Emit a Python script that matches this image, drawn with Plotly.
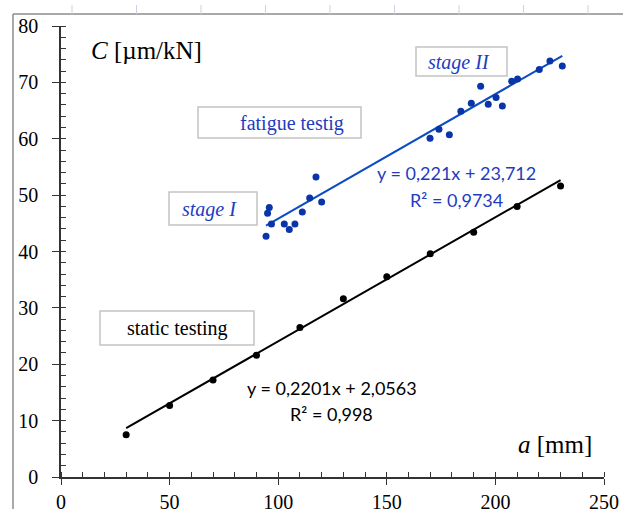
import plotly.graph_objects as go

# ---------------- data ----------------
static_x = [30, 50, 70, 90, 110, 130, 150, 170, 190, 210, 230]
static_y = [7.5, 12.7, 17.2, 21.6, 26.5, 31.6, 35.5, 39.6, 43.4, 48.0, 51.6]

fatigue_x = [94.4, 95.1, 95.9, 96.9, 102.8, 105.1, 107.7, 111.1, 114.5, 117.4, 120.0,
             169.9, 174.0, 178.8, 184.1, 188.9, 193.2, 196.7, 200.3, 203.2, 207.5,
             210.2, 220.2, 225.1, 230.8]
fatigue_y = [42.7, 46.8, 47.8, 44.9, 44.9, 43.9, 44.9, 47.0, 49.5, 53.2, 48.8,
             60.1, 61.7, 60.7, 64.9, 66.3, 69.3, 66.1, 67.3, 65.8, 70.2,
             70.6, 72.3, 73.8, 72.9]

static_fit = (0.2201, 2.0563)     # slope, intercept
fatigue_fit = (0.221, 23.712)

x_ticks = [0, 50, 100, 150, 200, 250]
y_ticks = [0, 10, 20, 30, 40, 50, 60, 70, 80]

# ---------------- geometry helpers ----------------
W, H = 623, 509
ML, MR, MT, MB = 61, 19, 26, 32
PW, PH = W - ML - MR, H - MT - MB


def fx(px):
    return (px - ML) / PW


def fy(py):
    return (H - MB - py) / PH


BLUE_PT = "#0a35a8"
BLUE_LN = "#0a4cc4"
BLUE_TX = "#1e3cc0"

fig = go.Figure()

# trend lines
sx0, sx1 = min(static_x), max(static_x)
fig.add_trace(go.Scatter(x=[sx0, sx1],
                         y=[static_fit[0] * sx0 + static_fit[1], static_fit[0] * sx1 + static_fit[1]],
                         mode="lines", line=dict(color="black", width=2), hoverinfo="skip"))
fx0, fx1 = min(fatigue_x), max(fatigue_x)
fig.add_trace(go.Scatter(x=[fx0, fx1],
                         y=[fatigue_fit[0] * fx0 + fatigue_fit[1], fatigue_fit[0] * fx1 + fatigue_fit[1]],
                         mode="lines", line=dict(color=BLUE_LN, width=2), hoverinfo="skip"))

# points
fig.add_trace(go.Scatter(x=static_x, y=static_y, mode="markers",
                         marker=dict(color="black", size=7)))
fig.add_trace(go.Scatter(x=fatigue_x, y=fatigue_y, mode="markers",
                         marker=dict(color=BLUE_PT, size=7)))

# dummy trace for overlay axes (inside part of crossing major ticks)
fig.add_trace(go.Scatter(x=[None], y=[None], xaxis="x2", yaxis="y2", showlegend=False))

tickfont = dict(family="Liberation Serif", size=20, color="black")
axcol = "#333333"

fig.update_layout(
    width=W, height=H,
    margin=dict(l=ML, r=MR, t=MT, b=MB, autoexpand=False),
    paper_bgcolor="white", plot_bgcolor="white",
    showlegend=False,
    xaxis=dict(range=[0, 250], tickvals=x_ticks, ticktext=[str(v) for v in x_ticks],
               showgrid=False, zeroline=False, showline=True, linecolor=axcol, linewidth=1.5,
               ticks="outside", ticklen=6, tickwidth=1.3, tickcolor=axcol, automargin=False,
               minor=dict(ticks="inside", ticklen=5, dtick=10, tickcolor=axcol, tickwidth=1.2, showgrid=False),
               tickfont=tickfont, ticklabelstandoff=0),
    yaxis=dict(range=[0, 80], tickvals=y_ticks, ticktext=[str(v) for v in y_ticks],
               showgrid=False, zeroline=False, showline=True, linecolor=axcol, linewidth=1.5,
               ticks="outside", ticklen=7, tickwidth=1.3, tickcolor=axcol, automargin=False,
               minor=dict(ticks="inside", ticklen=5, dtick=2, tickcolor=axcol, tickwidth=1.2, showgrid=False),
               tickfont=tickfont, ticklabelstandoff=10),
    xaxis2=dict(range=[0, 250], overlaying="x", anchor="y2", tickvals=x_ticks,
                showticklabels=False, showgrid=False, zeroline=False, showline=False,
                ticks="inside", ticklen=5, tickwidth=1.3, tickcolor=axcol, automargin=False),
    yaxis2=dict(range=[0, 80], overlaying="y", anchor="x2", tickvals=y_ticks,
                showticklabels=False, showgrid=False, zeroline=False, showline=False,
                ticks="inside", ticklen=5, tickwidth=1.3, tickcolor=axcol, automargin=False),
)

shapes = []
# outer chart frame (top & left visible)
shapes.append(dict(type="line", xref="paper", yref="paper", x0=fx(13), x1=fx(W + 5), y0=fy(14), y1=fy(14),
                   line=dict(color="#8c8c8c", width=1.5)))
shapes.append(dict(type="line", xref="paper", yref="paper", x0=fx(13), x1=fx(13), y0=fy(14), y1=fy(H + 5),
                   line=dict(color="#8c8c8c", width=1.5)))
# faint marks above the frame
for px in [72, 136.5, 201, 265.5, 330, 394.5, 459, 523.5, 588]:
    shapes.append(dict(type="line", xref="paper", yref="paper", x0=fx(px), x1=fx(px), y0=fy(5), y1=fy(14),
                       line=dict(color="#c9d2e2", width=1)))

# text boxes
boxes = [(198, 107, 361, 138), (169, 192, 257, 225), (416, 47, 507, 76), (100, 311, 254, 345)]
for x0, y0, x1, y1 in boxes:
    shapes.append(dict(type="rect", xref="paper", yref="paper", x0=fx(x0), x1=fx(x1), y0=fy(y1), y1=fy(y0),
                       line=dict(color="#c4c4c4", width=1.5), fillcolor="white", layer="below"))
fig.update_layout(shapes=shapes)


def ann(text, px, py, size, color="black", family="Liberation Serif", xanchor="center"):
    fig.add_annotation(text=text, x=fx(px), y=fy(py), xref="paper", yref="paper",
                       xanchor=xanchor, yanchor="middle", showarrow=False,
                       font=dict(family=family, size=size, color=color))


ann("fatigue testig", 292, 123, 20, BLUE_TX)
ann("<i>stage I</i>", 209, 209, 20, BLUE_TX)
ann("<i>stage II</i>", 459, 62, 20, BLUE_TX)
ann("static testing", 177, 328, 20, "black")
ann("<i>C</i> [µm/kN]", 89, 50, 25, "black", xanchor="left")
ann("<i>a</i> [mm]", 594, 444, 25, "black", xanchor="right")

eq_font = "Lato"
ann("y = 0,221x + 23,712", 456, 173, 18, BLUE_TX, eq_font)
ann("R² = 0,9734", 456, 200, 18, BLUE_TX, eq_font)
ann("y = 0,2201x + 2,0563", 332, 388, 18, "black", eq_font)
ann("R² = 0,998", 331, 414, 18, "black", eq_font)

fig.write_html("out.html")
